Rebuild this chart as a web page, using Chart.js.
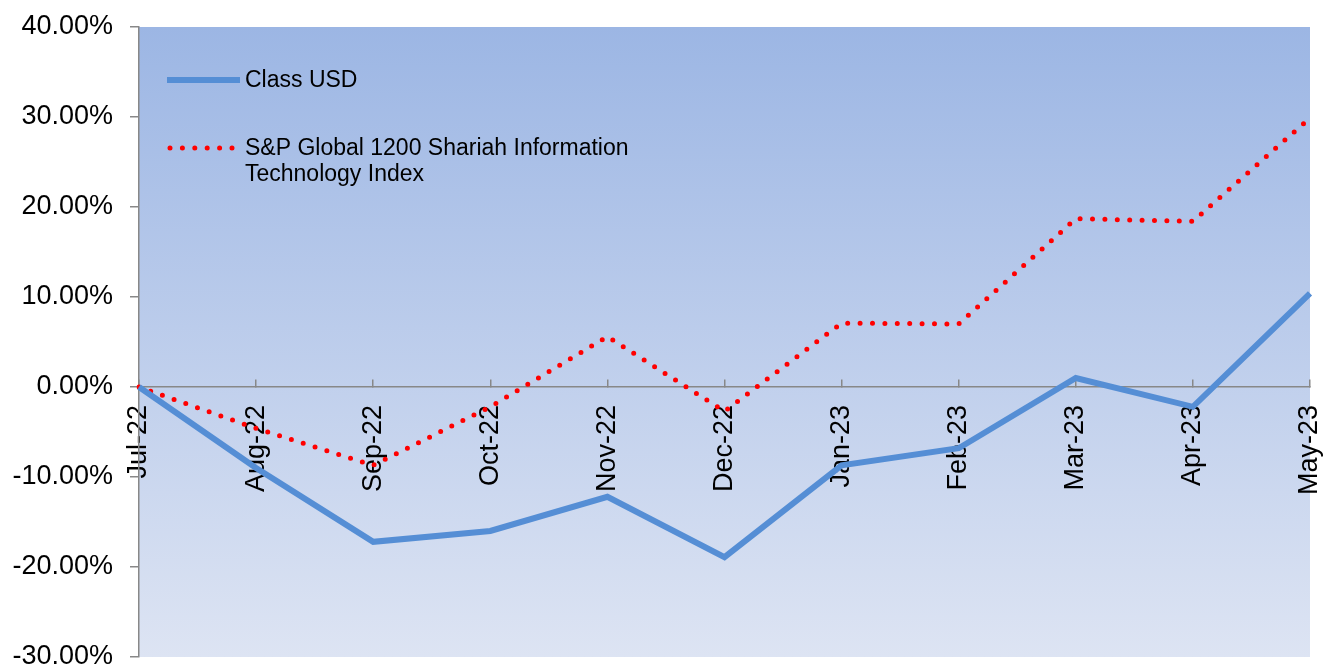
<!DOCTYPE html>
<html>
<head>
<meta charset="utf-8">
<script src="https://cdn.jsdelivr.net/npm/chart.js@4/dist/chart.umd.min.js"></script>
<style>
  body { margin: 0; background: #fff; }
  #wrap { width: 1323px; height: 666px; position: relative; }
</style>
</head>
<body>
<div id="wrap"><canvas id="perfChart"></canvas></div>
<script>
// data
const months = ["Jul-22", "Aug-22", "Sep-22", "Oct-22", "Nov-22", "Dec-22", "Jan-23", "Feb-23", "Mar-23", "Apr-23", "May-23"];
const classUsd = [0, -9.0, -17.2, -16.0, -12.2, -18.9, -8.7, -6.8, 1.0, -2.2, 10.4];
const spIndex = [0, -4.6, -8.7, -2.2, 5.6, -2.7, 7.1, 7.0, 18.7, 18.4, 29.9];
const yTicks = [-30, -20, -10, 0, 10, 20, 30, 40];

const seriesNames = ["Class USD", ["S&P Global 1200 Shariah Information", "Technology Index"]];

const FONT = "'Liberation Sans', Arial, sans-serif";

// gradient fill behind the plot
const plotBackground = {
  id: "plotBackground",
  beforeDraw(chart) {
    const { ctx, chartArea } = chart;
    const g = ctx.createLinearGradient(0, chartArea.top, 0, chartArea.bottom);
    g.addColorStop(0, "#9cb6e4");
    g.addColorStop(1, "#dde4f3");
    ctx.save();
    ctx.fillStyle = g;
    ctx.fillRect(chartArea.left, chartArea.top, chartArea.right - chartArea.left, chartArea.bottom - chartArea.top);
    ctx.restore();
  },
};

// legend drawn inside the plot, top left
const innerLegend = {
  id: "innerLegend",
  afterDraw(chart) {
    const { ctx } = chart;
    const ds = chart.data.datasets;
    ctx.save();
    ctx.font = "23px " + FONT;
    ctx.fillStyle = "#000";
    ctx.textBaseline = "middle";
    // Class USD
    ctx.strokeStyle = ds[0].borderColor;
    ctx.lineWidth = 6;
    ctx.beginPath();
    ctx.moveTo(167, 80);
    ctx.lineTo(240, 80);
    ctx.stroke();
    ctx.fillText(seriesNames[0], 245, 81);
    // index
    ctx.strokeStyle = ds[1].borderColor;
    ctx.lineWidth = 5;
    ctx.lineCap = "round";
    ctx.setLineDash([0, 12.4]);
    ctx.beginPath();
    ctx.moveTo(170, 148);
    ctx.lineTo(234, 148);
    ctx.stroke();
    ctx.setLineDash([]);
    ctx.fillText(seriesNames[1][0], 245, 149);
    ctx.fillText(seriesNames[1][1], 245, 175);
    ctx.restore();
  },
};

const perfCtx = document.getElementById("perfChart").getContext("2d");
const perfChart = new Chart(perfCtx, {
  type: "line",
  data: {
    labels: months,
    datasets: [
      {
        label: "Class USD",
        data: classUsd,
        borderColor: "#558ed5",
        borderWidth: 6,
        pointRadius: 0,
        tension: 0,
        fill: false,
      },
      {
        label: "S&P Global 1200 Shariah Information Technology Index",
        data: spIndex,
        borderColor: "#ff0000",
        borderWidth: 5,
        borderDash: [0, 12.4],
        borderCapStyle: "round",
        pointRadius: 0,
        tension: 0,
        fill: false,
      },
    ],
  },
  options: {
    responsive: true,
    maintainAspectRatio: false,
    animation: false,
    layout: {
      padding: { left: 0, top: 27, right: 13, bottom: 9 },
    },
    scales: {
      x: {
        position: { y: 0 },
        offset: false,
        afterFit(scale) {
          scale.paddingLeft = 0;
          scale.paddingRight = 0;
        },
        grid: {
          drawOnChartArea: false,
          drawTicks: true,
          tickLength: -8,
          tickColor: "#888888",
          lineWidth: 1.5,
        },
        border: { display: true, color: "#888888", width: 1.5 },
        ticks: {
          minRotation: 90,
          maxRotation: 90,
          autoSkip: false,
          padding: 26,
          color: "#000",
          font: { family: FONT, size: 27 },
        },
      },
      y: {
        min: -30,
        max: 40,
        afterBuildTicks(scale) {
          scale.ticks = yTicks.map((v) => ({ value: v }));
        },
        afterFit(scale) {
          scale.width = 139;
          scale.paddingTop = 0;
          scale.paddingBottom = 0;
        },
        grid: {
          drawOnChartArea: false,
          drawTicks: true,
          tickLength: 9,
          tickColor: "#888888",
          lineWidth: 1.5,
        },
        border: { display: true, color: "#888888", width: 1.5 },
        ticks: {
          padding: 17,
          color: "#000",
          font: { family: FONT, size: 27 },
          callback: (v) => v.toFixed(2) + "%",
        },
      },
    },
    plugins: {
      legend: { display: false },
      tooltip: { enabled: false },
    },
  },
  plugins: [plotBackground, innerLegend],
});
</script>
</body>
</html>
